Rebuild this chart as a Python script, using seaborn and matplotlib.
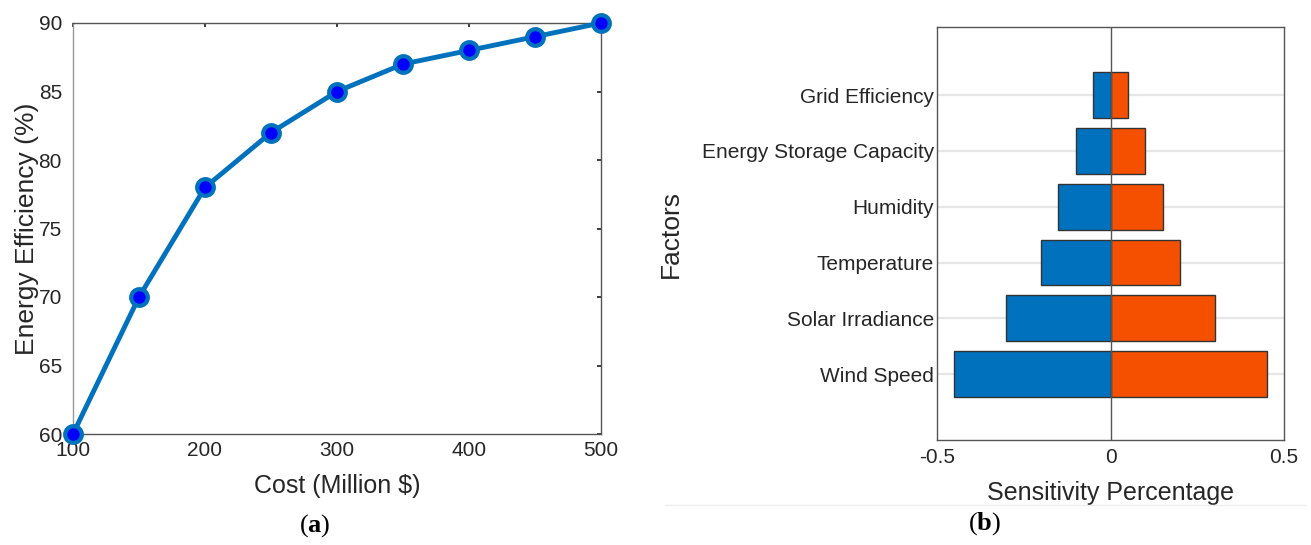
import matplotlib
matplotlib.use("Agg")
import matplotlib.pyplot as plt
from matplotlib import font_manager
from matplotlib.lines import Line2D
import seaborn as sns
import pandas as pd

# ---- data ----
cost = [100, 150, 200, 250, 300, 350, 400, 450, 500]
efficiency = [60, 70, 78, 82, 85, 87, 88, 89, 90]

factors = ["Grid Efficiency", "Energy Storage Capacity", "Humidity",
           "Temperature", "Solar Irradiance", "Wind Speed"]
sens_neg = [-0.05, -0.10, -0.15, -0.20, -0.30, -0.45]
sens_pos = [0.05, 0.10, 0.15, 0.20, 0.30, 0.45]

x_ticks_a = [100, 200, 300, 400, 500]
y_ticks_a = [60, 65, 70, 75, 80, 85, 90]
x_ticks_b = [-0.5, 0, 0.5]
x_ticklabels_b = ["-0.5", "0", "0.5"]

sns.set_theme(style="white")
names = {f.name for f in font_manager.fontManager.ttflist}
main_font = "Liberation Sans Narrow" if "Liberation Sans Narrow" in names else "Liberation Sans"
plt.rcParams["font.family"] = [main_font, "DejaVu Sans"]
plt.rcParams["mathtext.fontset"] = "custom"
plt.rcParams["mathtext.rm"] = "Liberation Serif"
plt.rcParams["mathtext.bf"] = "Liberation Serif:bold"

BLUE = "#0072BD"
ORANGE = "#F55000"
TXT = "#262626"

fig = plt.figure(figsize=(13.11, 5.45), dpi=100)
ax1 = fig.add_axes([73 / 1311, 111 / 545, 528 / 1311, 411 / 545])
ax2 = fig.add_axes([937 / 1311, 105 / 545, 347 / 1311, 413 / 545])

# ---- panel (a) ----
df_a = pd.DataFrame({"cost": cost, "eff": efficiency})
sns.lineplot(data=df_a, x="cost", y="eff", ax=ax1, color=BLUE, linewidth=3.5,
             marker="o", markersize=12, markerfacecolor="#0000FF",
             markeredgecolor=BLUE, markeredgewidth=3, clip_on=False, zorder=5)
ax1.set_xlim(100, 500)
ax1.set_ylim(60, 90)
ax1.set_xticks(x_ticks_a)
ax1.set_yticks(y_ticks_a)
ax1.set_xlabel("Cost (Million $)", fontsize=18, color=TXT, labelpad=10)
ax1.set_ylabel("Energy Efficiency (%)", fontsize=19, color=TXT, labelpad=0)
ax1.tick_params(axis="both", direction="in", length=3, labelsize=15,
                colors=TXT, top=True, right=True)
ax1.tick_params(axis="x", pad=5)
ax1.tick_params(axis="y", pad=8)
for sp in ax1.spines.values():
    sp.set_color("#555555")
    sp.set_linewidth(1.0)
ax1.spines["left"].set_color("#999999")

# ---- panel (b) ----
df_b = pd.DataFrame({"factor": factors, "neg": sens_neg, "pos": sens_pos})
for y in range(len(factors)):
    ax2.axhline(y, color="#e6e6e6", linewidth=1.6, zorder=0)
sns.barplot(data=df_b, y="factor", x="neg", order=factors, orient="h", ax=ax2,
            color=BLUE, saturation=1, width=0.82, edgecolor="#333333",
            linewidth=1.0, zorder=2)
sns.barplot(data=df_b, y="factor", x="pos", order=factors, orient="h", ax=ax2,
            color=ORANGE, saturation=1, width=0.82, edgecolor="#333333",
            linewidth=1.0, zorder=2)
ax2.axvline(0, color="#555555", linewidth=1.0, zorder=3)
ax2.set_xlim(-0.5, 0.5)
ax2.set_ylim(6.18, -1.22)
ax2.set_xticks(x_ticks_b)
ax2.set_xticklabels(x_ticklabels_b)
ax2.set_xlabel("Sensitivity Percentage", fontsize=18, color=TXT, labelpad=10)
ax2.set_ylabel("Factors", fontsize=19, color=TXT, labelpad=14)
ax2.tick_params(axis="both", length=0, labelsize=15, colors=TXT, pad=6)
ax2.tick_params(axis="y", labelsize=15, pad=2)
for sp in ax2.spines.values():
    sp.set_color("#555555")
    sp.set_linewidth(1.0)

# separator line and panel labels
fig.add_artist(Line2D([665 / 1311, 1305 / 1311], [40 / 545, 40 / 545],
                      color="#eeeeee", linewidth=1.0))
fig.text(315 / 1311, 19 / 545, r"($\mathbf{a}$)", fontsize=19, ha="center",
         va="center", family="Liberation Serif", color="black")
fig.text(985 / 1311, 21 / 545, r"($\mathbf{b}$)", fontsize=19, ha="center",
         va="center", family="Liberation Serif", color="black")

fig.savefig("out.png", dpi=100)
